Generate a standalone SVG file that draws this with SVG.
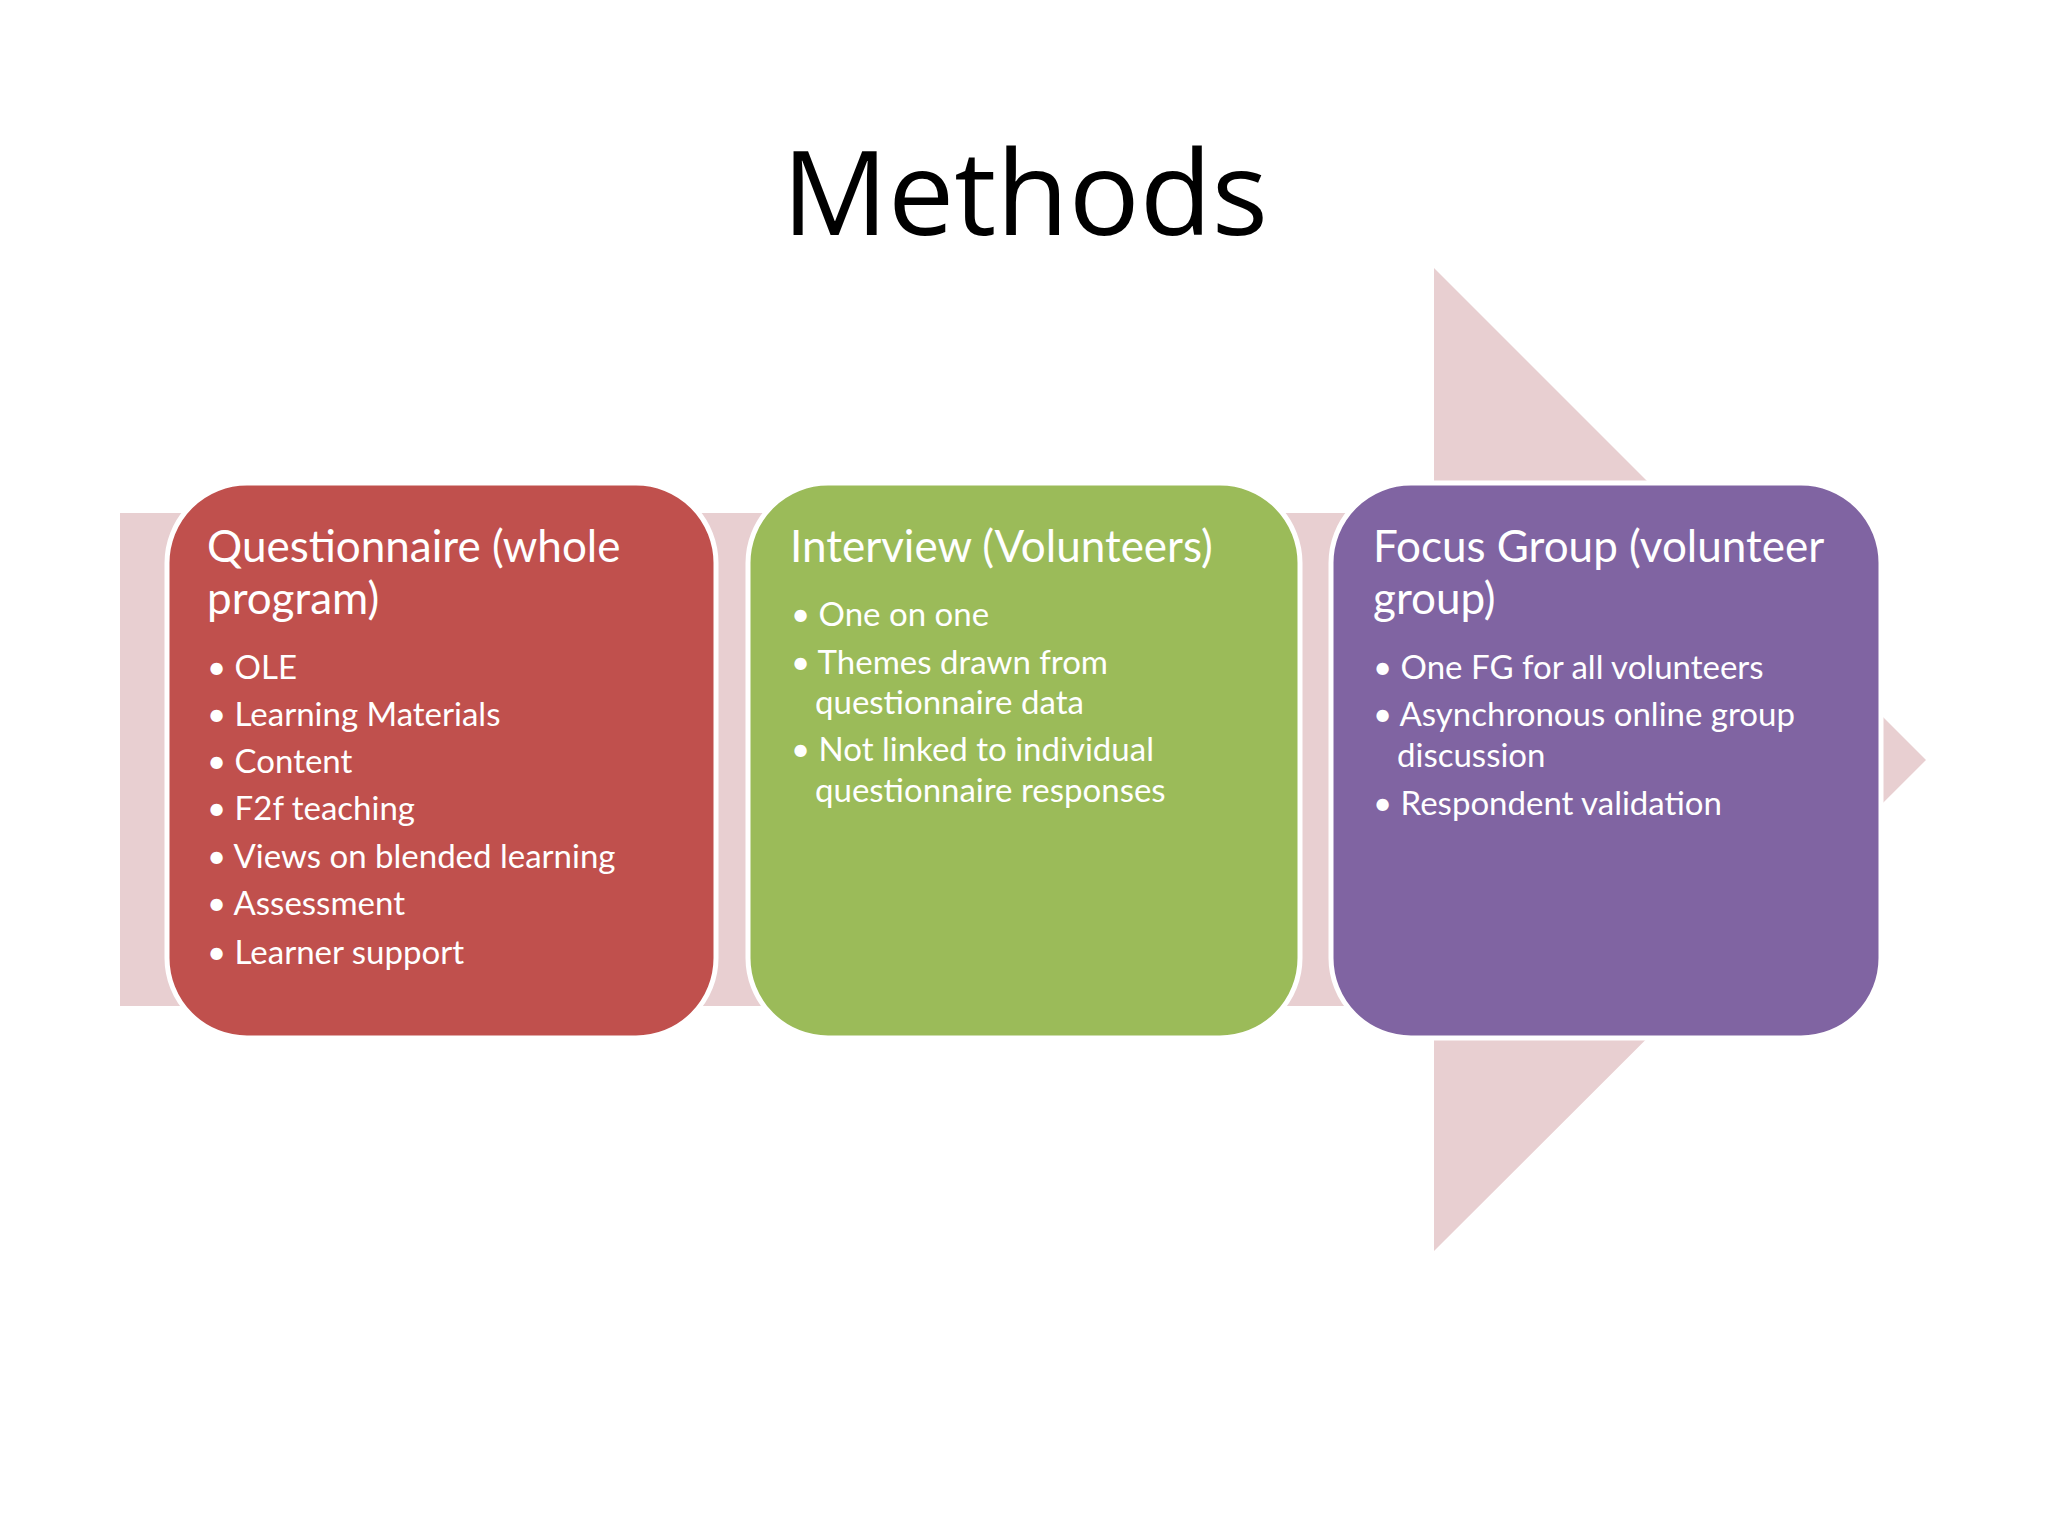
<svg xmlns="http://www.w3.org/2000/svg" width="2048" height="1536" viewBox="0 0 2048 1536">
<style>
.t{font-family:Lato,"Open Sans",sans-serif;fill:#fff}
.h{font-size:44px}
.b{font-size:33px}
.box{stroke:#fff;stroke-width:5}
</style>
<rect width="2048" height="1536" fill="#fff"/>
<text x="1025" y="235" text-anchor="middle" font-family="Open Sans, sans-serif" font-size="118" fill="#000">Methods</text>
<g id="arrow">
<polygon points="120,513 1434,513 1434,268 1926,760 1434,1251 1434,1006 120,1006" fill="#e8cfd1"/>
</g>
<g id="questionnaire">
<rect class="box" x="167" y="483" width="549" height="555" rx="80" fill="#c0504d"/>
<text class="t h" x="207" y="562">Questionnaire (whole</text>
<text class="t h" x="207" y="614">program)</text>
<g class="t b">
<text x="207" y="679">• OLE</text>
<text x="207" y="726">• Learning Materials</text>
<text x="207" y="773">• Content</text>
<text x="207" y="820">• F2f teaching</text>
<text x="207" y="868">• Views on blended learning</text>
<text x="207" y="915">• Assessment</text>
<text x="207" y="964">• Learner support</text>
</g>
</g>
<g id="interview">
<rect class="box" x="748" y="483" width="552" height="555" rx="80" fill="#9bbb59"/>
<text class="t h" x="790" y="562">Interview (Volunteers)</text>
<g class="t b">
<text x="791" y="626">• One on one</text>
<text x="791" y="674">• Themes drawn from</text>
<text x="815" y="714">questionnaire data</text>
<text x="791" y="761">• Not linked to individual</text>
<text x="815" y="802">questionnaire responses</text>
</g>
</g>
<g id="focus">
<rect class="box" x="1331" y="483" width="550" height="555" rx="80" fill="#8064a2"/>
<text class="t h" x="1373" y="562">Focus Group (volunteer</text>
<text class="t h" x="1373" y="614">group)</text>
<g class="t b">
<text x="1373" y="679">• One FG for all volunteers</text>
<text x="1373" y="726">• Asynchronous online group</text>
<text x="1397" y="767">discussion</text>
<text x="1373" y="815">• Respondent validation</text>
</g>
</g>
</svg>
